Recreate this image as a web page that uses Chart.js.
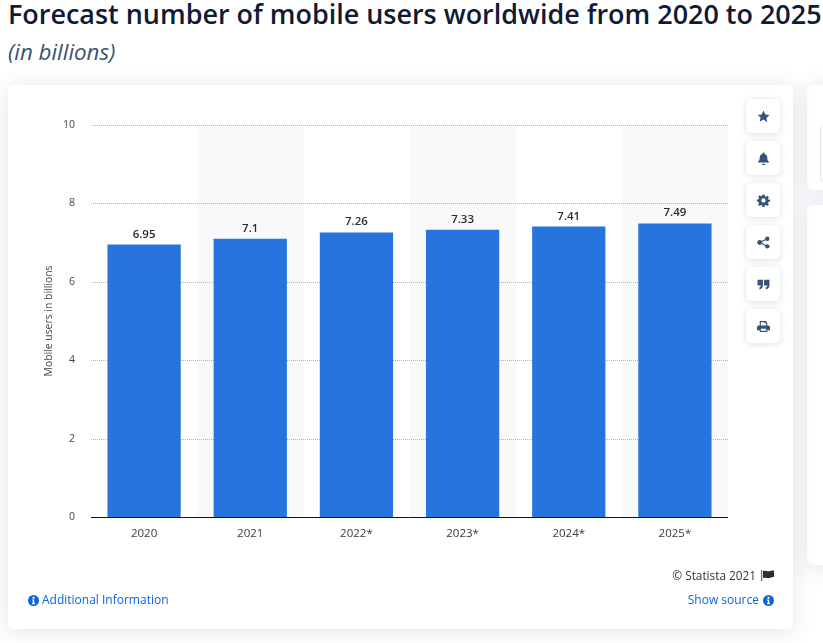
<!DOCTYPE html>
<html>
<head>
<meta charset="utf-8">
<script src="https://cdn.jsdelivr.net/npm/chart.js@4.4.0/dist/chart.umd.js"></script>
<style>
    html, body { margin: 0; padding: 0; }
    body { width: 823px; height: 643px; overflow: hidden; position: relative; background: #fff; font-family: 'Open Sans', sans-serif; }
    h1 { position: absolute; left: 8px; top: -4px; margin: 0; font-size: 26.95px; line-height: 36px; font-weight: 600; color: #0f1a33; white-space: nowrap; }
    h2 { position: absolute; left: 8px; top: 37px; margin: 0; font-size: 22.3px; line-height: 30px; font-weight: 400; font-style: italic; color: #36536f; white-space: nowrap; }
    .card { position: absolute; background: #fff; border-radius: 6px; box-shadow: 0 2px 22px rgba(70, 90, 130, 0.16); }
    #mainCard { left: 8px; top: 85px; width: 785px; height: 544px; }
    #sideTop { left: 807px; top: 85px; width: 60px; height: 105px; }
    #sideBottom { left: 807px; top: 205px; width: 60px; height: 360px; }
    #sideInner { position: absolute; left: 13px; top: 40px; width: 30px; height: 55px; border: 1px solid #e4e7ec; border-radius: 4px; }
    #chartCanvas { position: absolute; left: 0; top: 0; }
    .tool { position: absolute; left: 738px; width: 34px; height: 34px; background: #fff; border-radius: 5px; box-shadow: 0 1px 6px rgba(70, 90, 130, 0.2); display: flex; align-items: center; justify-content: center; }
    .tool svg { width: 13px; height: 13px; fill: #35547a; }
    .link { position: absolute; font-size: 12px; line-height: 16px; color: #0a66d8; white-space: nowrap; display: flex; align-items: center; }
    .link svg { width: 11px; height: 11px; fill: #0a66d8; }
    #copyright { position: absolute; right: 19px; top: 482px; font-size: 11.8px; line-height: 16px; color: #2b3440; white-space: nowrap; display: flex; align-items: center; }
    #copyright svg { width: 13px; height: 11px; margin-left: 5px; }
</style>
</head>
<body>
<h1>Forecast number of mobile users worldwide from 2020 to 2025</h1>
<h2>(in billions)</h2>

<div class="card" id="sideTop"><div id="sideInner"></div></div>
<div class="card" id="sideBottom"></div>

<div class="card" id="mainCard">
    <canvas id="chartCanvas"></canvas>

    <div class="tool" style="top:14px"><svg viewBox="0 0 24 24"><path d="M12 1l3.4 7.2 7.6 1-5.6 5.4 1.5 7.9L12 17.7l-6.9 3.8 1.5-7.9L1 9.2l7.6-1z"/></svg></div>
    <div class="tool" style="top:56px"><svg viewBox="0 0 24 24"><path d="M12 1a2 2 0 0 1 2 2v.6c3.4.8 5 3.6 5 7 0 4 1.200 5.400 3 7.400v1.500H2V18c1.800-2 3-3.400 3-7.400 0-3.400 1.600-6.200 5-7V3a2 2 0 0 1 2-2zM9 21.500h6a3 3 0 0 1-6 0z"/></svg></div>
    <div class="tool" style="top:98px"><svg viewBox="0 0 24 24"><path fill-rule="evenodd" d="M10 1h4l.6 3.200 1.900.8 2.700-1.900 2.800 2.800-1.900 2.700.8 1.900L24 10v4l-3.100.6-.8 1.900 1.900 2.700-2.800 2.800-2.700-1.900-1.900.8L14 24h-4l-.6-3.100-1.900-.8-2.700 1.900L2 19.200l1.900-2.700-.8-1.900L0 14v-4l3.100-.5.800-1.900L2 4.900l2.800-2.800 2.700 1.900 1.900-.8zM12 8a4 4 0 1 0 0 8 4 4 0 0 0 0-8z"/></svg></div>
    <div class="tool" style="top:140px"><svg viewBox="0 0 24 24"><circle cx="19" cy="5" r="4"/><circle cx="19" cy="19" r="4"/><circle cx="5" cy="12" r="4.500"/><path d="M5 11l13-7 1 2-13 7zM6 11l13 7-1 2-13-7z"/></svg></div>
    <div class="tool" style="top:182px"><svg viewBox="0 0 24 24"><path d="M1 3h10v10c0 4-2 7-6 8l-1-3c2-.6 3-2 3-4H1zM13 3h10v10c0 4-2 7-6 8l-1-3c2-.6 3-2 3-4h-6z"/></svg></div>
    <div class="tool" style="top:224px"><svg viewBox="0 0 24 24"><path fill-rule="evenodd" d="M5 2h11l3 3v5h2a3 3 0 0 1 3 3v6h-5v3H5v-3H0v-6a3 3 0 0 1 3-3h2zm2 2v6h10V6h-3V4zM7 16v4h10v-4z"/></svg></div>

    <div id="copyright">© Statista 2021 <svg viewBox="0 0 26 22"><rect x="0" y="0" width="2.500" height="22" fill="#a5643a"/><path d="M4 2c6-2 8 2 14 0 3-1 5-1 8-1v13c-4 0-6 1-9 2-5 1-8-2-13 0z" fill="#2b2f36"/></svg></div>
    <div class="link" style="left:20px; top:507px"><svg viewBox="0 0 24 24" style="margin-right:3px"><path fill-rule="evenodd" d="M12 0a12 12 0 1 1 0 24 12 12 0 0 1 0-24zm-2 4v4h4V4zm-1 6v2.500h1.500V17H9v3h6v-3h-1.500v-7z"/></svg>Additional Information</div>
    <div class="link" style="right:19px; top:507px">Show source<svg viewBox="0 0 24 24" style="margin-left:4px"><path fill-rule="evenodd" d="M12 0a12 12 0 1 1 0 24 12 12 0 0 1 0-24zm-2 4v4h4V4zm-1 6v2.500h1.500V17H9v3h6v-3h-1.500v-7z"/></svg></div>
</div>

<script>
// Chart data
const years = ['2020', '2021', '2022*', '2023*', '2024*', '2025*'];
const mobileUsers = [6.95, 7.1, 7.26, 7.33, 7.41, 7.49];
const valueLabels = ['6.95', '7.1', '7.26', '7.33', '7.41', '7.49'];
const yTicks = [0, 2, 4, 6, 8, 10];

const labelFont = "'Open Sans', sans-serif";

// Grey bands behind every second category
const bandPlugin = {
    id: 'bands',
    beforeDatasetsDraw(chart) {
        const { ctx, chartArea, scales } = chart;
        const step = scales.x.getPixelForValue(1) - scales.x.getPixelForValue(0);
        ctx.save();
        ctx.fillStyle = '#f9f9fa';
        years.forEach((year, i) => {
            if (i % 2 === 1) {
                const center = scales.x.getPixelForValue(i);
                ctx.fillRect(center - step / 2, chartArea.top + 2, step, chartArea.bottom - chartArea.top - 2);
            }
        });
        ctx.restore();
    }
};

// Dotted gridlines are redrawn over the bands, the bars stay on top
const gridPlugin = {
    id: 'dottedGrid',
    beforeDatasetsDraw(chart) {
        const { ctx, chartArea, scales } = chart;
        ctx.save();
        ctx.strokeStyle = '#b4b4b4';
        ctx.lineWidth = 1;
        ctx.setLineDash([1, 1]);
        yTicks.filter(t => t > 0).forEach(t => {
            const y = Math.round(scales.y.getPixelForValue(t)) + 0.5;
            ctx.beginPath();
            ctx.moveTo(chartArea.left, y);
            ctx.lineTo(chartArea.right, y);
            ctx.stroke();
        });
        ctx.restore();
    }
};

// Value labels above the bars and the black baseline
const valueLabelPlugin = {
    id: 'valueLabels',
    afterDatasetsDraw(chart) {
        const { ctx, chartArea, scales } = chart;
        const meta = chart.getDatasetMeta(0);
        ctx.save();
        ctx.font = '600 11.5px ' + labelFont;
        ctx.fillStyle = '#2b2b2b';
        ctx.textAlign = 'center';
        ctx.textBaseline = 'alphabetic';
        meta.data.forEach((bar, i) => {
            ctx.fillText(valueLabels[i], bar.x, bar.y - 7);
        });
        const y = Math.round(scales.y.getPixelForValue(0)) + 0.5;
        ctx.strokeStyle = '#111';
        ctx.lineWidth = 1;
        ctx.beginPath();
        ctx.moveTo(chartArea.left, y);
        ctx.lineTo(chartArea.right, y);
        ctx.stroke();
        ctx.restore();
    }
};

const canvas = document.getElementById('chartCanvas');
canvas.style.width = '785px';
canvas.style.height = '544px';
canvas.width = 785;
canvas.height = 544;

new Chart(canvas, {
    type: 'bar',
    data: {
        labels: years,
        datasets: [{
            data: mobileUsers,
            backgroundColor: '#2874de',
            borderWidth: 0,
            categoryPercentage: 1,
            barPercentage: 0.69
        }]
    },
    options: {
        responsive: false,
        animation: false,
        layout: { padding: { top: 40, right: 65, left: 0, bottom: 0 } },
        plugins: {
            legend: { display: false },
            tooltip: { enabled: false }
        },
        scales: {
            x: {
                grid: { display: false },
                border: { display: false },
                afterFit(scale) { scale.height = 112; },
                ticks: {
                    color: '#3a3a3a',
                    font: { family: labelFont, size: 11.5 },
                    padding: 2,
                    maxRotation: 0
                }
            },
            y: {
                min: 0,
                max: 10,
                afterFit(scale) { scale.width = 83; },
                afterBuildTicks(scale) { scale.ticks = yTicks.map(value => ({ value })); },
                grid: { display: false },
                border: { display: false },
                ticks: {
                    color: '#3a4a5a',
                    font: { family: labelFont, size: 10.5 },
                    padding: 8
                },
                title: {
                    display: true,
                    text: 'Mobile users in billions',
                    color: '#3a4a5a',
                    font: { family: labelFont, size: 10.4 },
                    padding: { top: 35, bottom: 0 }
                }
            }
        }
    },
    plugins: [bandPlugin, gridPlugin, valueLabelPlugin]
});
</script>
</body>
</html>
